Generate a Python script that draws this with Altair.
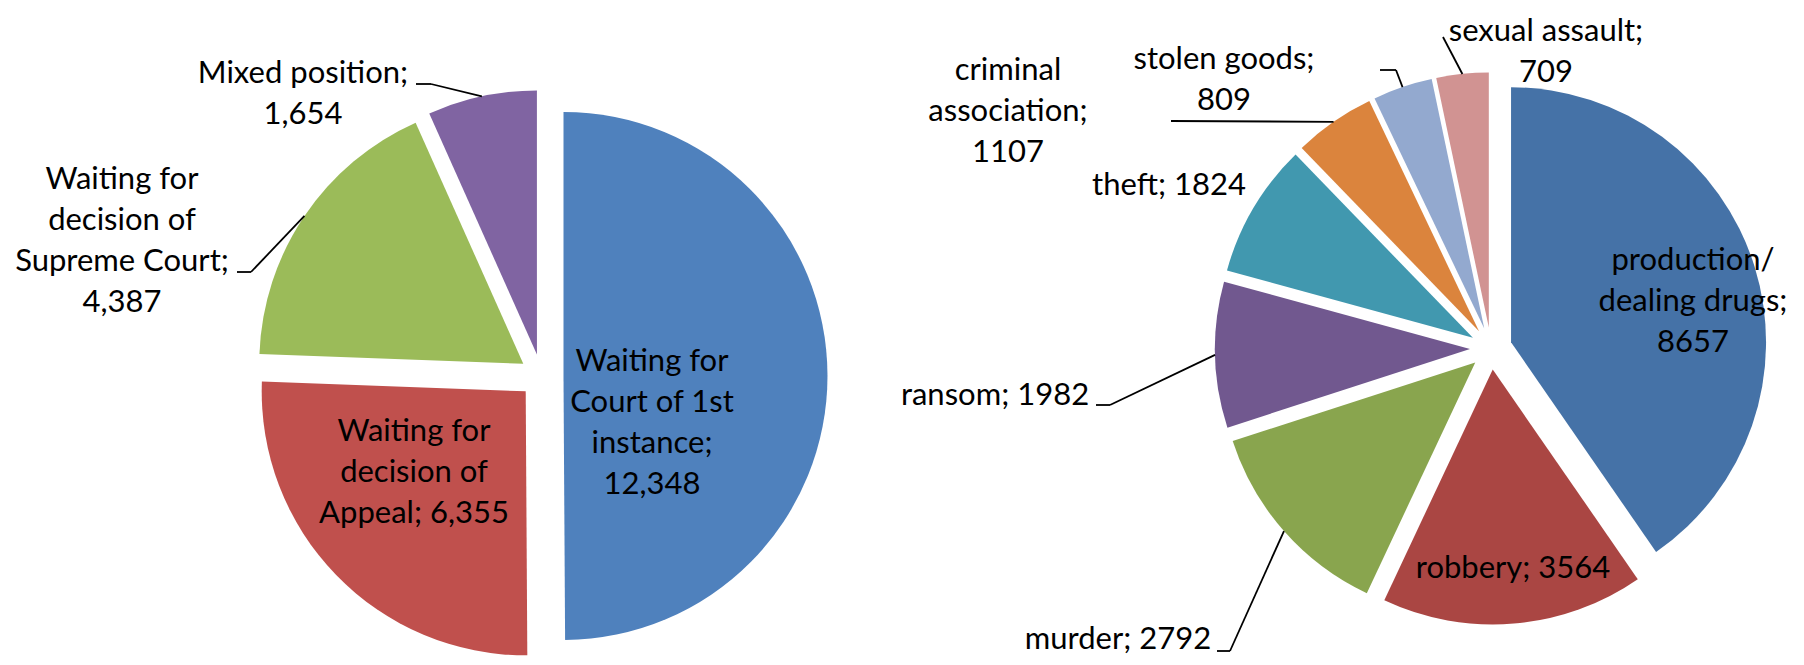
import altair as alt
import pandas as pd

# ---------------- data ----------------
left_categories = [
    "Waiting for Court of 1st instance",
    "Waiting for decision of Appeal",
    "Waiting for decision of Supreme Court",
    "Mixed position",
]
left_values = [12348, 6355, 4387, 1654]
left_labels = [
    "Waiting for\nCourt of 1st\ninstance;\n12,348",
    "Waiting for\ndecision of\nAppeal; 6,355",
    "Waiting for\ndecision of\nSupreme Court;\n4,387",
    "Mixed position;\n1,654",
]
left_colors = ["#4F81BD", "#C0504D", "#9BBB59", "#8064A2"]

right_categories = [
    "production/dealing drugs", "robbery", "murder", "ransom",
    "theft", "criminal association", "stolen goods", "sexual assault",
]
right_values = [8657, 3564, 2792, 1982, 1824, 1107, 809, 709]
right_labels = [
    "production/\ndealing drugs;\n8657", "robbery; 3564", "murder; 2792",
    "ransom; 1982", "theft; 1824", "criminal\nassociation;\n1107",
    "stolen goods;\n809", "sexual assault;\n709",
]
right_colors = ["#4572A7", "#AA4643", "#89A54E", "#71588F",
                "#4198AF", "#DB843D", "#93A9CF", "#D19392"]

# ---------------- layout ----------------
W, H = 1788, 649
PIES = {
    "left": dict(cx=533.5, cy=368.0, r=264.0, e=22.0),
    "right": dict(cx=1483.0, cy=340.5, r=255.0, e=21.0),
}
# label anchor (centre x, first baseline y) and optional leader (start, elbow)
label_layout = {
    "Waiting for Court of 1st instance": (644, 363, None),
    "Waiting for decision of Appeal": (406, 433, None),
    "Waiting for decision of Supreme Court": (114, 181, ((229, 264), (243, 264))),
    "Mixed position": (295, 75, ((408, 76), (423, 76))),
    "production/dealing drugs": (1685, 262, None),
    "robbery": (1505, 570, None),
    "murder": (1110, 641, ((1209, 643), (1222, 643))),
    "ransom": (987, 397, ((1088, 397), (1102, 397))),
    "theft": (1161, 187, None),
    "criminal association": (1000, 72, ((1163, 113), (1163, 113))),
    "stolen goods": (1216, 61, ((1372, 62), (1388, 62))),
    "sexual assault": (1538, 33, ((1435, 29), (1435, 29))),
}

rows = []
for pie, cats, vals, labs in [
    ("left", left_categories, left_values, left_labels),
    ("right", right_categories, right_values, right_labels),
]:
    for i, (c, v, l) in enumerate(zip(cats, vals, labs)):
        lx, ly, lead = label_layout[c]
        row = dict(pie=pie, category=c, value=v, order=i, label=l,
                   lx=lx, ly=ly, has_leader=lead is not None, **PIES[pie])
        if lead is not None:
            row.update(sx=lead[0][0], sy=lead[0][1], bx=lead[1][0], by=lead[1][1])
        rows.append(row)
df = pd.DataFrame(rows)

base = (
    alt.Chart(df)
    .transform_joinaggregate(total="sum(value)", groupby=["pie"])
    .transform_window(cum="sum(value)", sort=[alt.SortField("order")],
                      groupby=["pie"], frame=[None, 0])
    .transform_calculate(a1="2*PI*datum.cum/datum.total")
    .transform_calculate(a0="2*PI*(datum.cum-datum.value)/datum.total")
    .transform_calculate(mid="(datum.a0+datum.a1)/2")
    .transform_calculate(px="datum.cx + datum.e*sin(datum.mid)")
    .transform_calculate(py="datum.cy - datum.e*cos(datum.mid)")
    .transform_calculate(ax="datum.px + datum.r*sin(datum.mid)")
    .transform_calculate(ay="datum.py - datum.r*cos(datum.mid)")
)

color_scale = alt.Scale(domain=left_categories + right_categories,
                        range=left_colors + right_colors)

arcs = base.mark_arc(strokeWidth=0).encode(
    x=alt.X("px:Q", scale=None, axis=None),
    y=alt.Y("py:Q", scale=None, axis=None),
    theta=alt.Theta("a0:Q", scale=None, stack=False),
    theta2=alt.Theta2("a1:Q"),
    radius=alt.Radius("r:Q", scale=None, stack=False),
    color=alt.Color("category:N", scale=color_scale, legend=None),
)

lead_a = base.transform_filter("datum.has_leader").mark_rule(
    color="black", strokeWidth=1.8
).encode(
    x=alt.X("sx:Q", scale=None, axis=None), y=alt.Y("sy:Q", scale=None, axis=None),
    x2="bx:Q", y2="by:Q",
)
lead_b = base.transform_filter("datum.has_leader").mark_rule(
    color="black", strokeWidth=1.8
).encode(
    x=alt.X("bx:Q", scale=None, axis=None), y=alt.Y("by:Q", scale=None, axis=None),
    x2="ax:Q", y2="ay:Q",
)

labels = base.mark_text(
    font="Lato", fontSize=31, color="black", align="center",
    baseline="alphabetic", lineBreak="\n", lineHeight=41,
).encode(
    x=alt.X("lx:Q", scale=None, axis=None),
    y=alt.Y("ly:Q", scale=None, axis=None),
    text="label:N",
)

chart = (
    alt.layer(arcs, lead_a, lead_b, labels)
    .properties(width=W, height=H, padding=0, background="white",
                autosize=alt.AutoSizeParams(type="none"))
    .configure_view(stroke=None)
)

chart.save("out.html", embed_options={"renderer": "svg", "actions": False})
